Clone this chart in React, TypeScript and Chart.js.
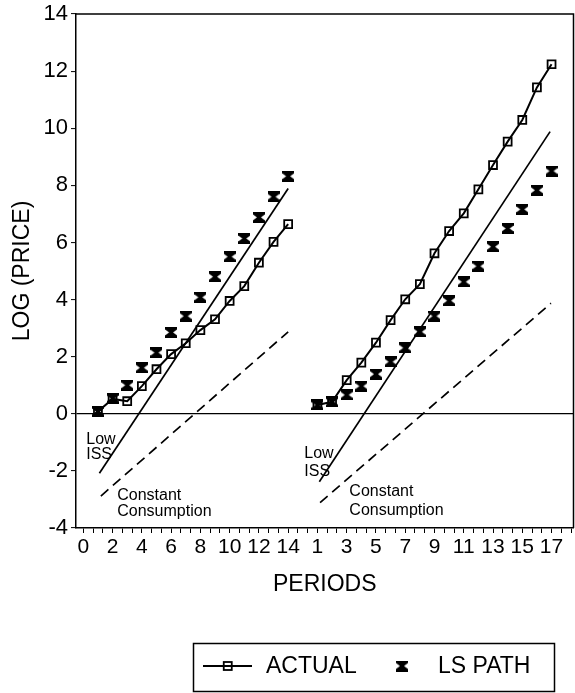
import React, { useEffect, useRef } from "react";
import { Chart, registerables } from "chart.js";

Chart.register(...registerables);

const FONT = "'Liberation Sans', Arial, Helvetica, sans-serif";

// x position (on the shared axis) of period 0 for each panel
const PANEL_A_START = 0;
const PANEL_B_START = 15;

// ---------- data ----------
const periodsA = [1, 2, 3, 4, 5, 6, 7, 8, 9, 10, 11, 12, 13, 14];
const actualA = [0.08, 0.52, 0.44, 0.97, 1.56, 2.09, 2.47, 2.93, 3.31, 3.95, 4.47, 5.29, 6.02, 6.64];
const lsPathA = [0.08, 0.54, 1.0, 1.61, 2.14, 2.85, 3.42, 4.08, 4.8, 5.5, 6.14, 6.88, 7.6, 8.32];

const periodsB = [1, 2, 3, 4, 5, 6, 7, 8, 9, 10, 11, 12, 13, 14, 15, 16, 17];
const actualB = [0.31, 0.42, 1.18, 1.79, 2.49, 3.28, 4.01, 4.54, 5.62, 6.4, 7.02, 7.86, 8.71, 9.53, 10.29, 11.43, 12.24];
const lsPathB = [0.31, 0.42, 0.66, 0.97, 1.39, 1.82, 2.31, 2.87, 3.42, 3.96, 4.62, 5.17, 5.85, 6.49, 7.16, 7.83, 8.5];

// reference paths: [period, log price] end points
const lowIssA = [[1.1, -2.08], [14, 7.89]];
const constConsA = [[1.2, -2.88], [14, 2.87]];
const lowIssB = [[1.13, -2.38], [16.9, 9.88]];
const constConsB = [[1.18, -3.11], [16.96, 3.87]];

// tick labels
const yTicks = [-4, -2, 0, 2, 4, 6, 8, 10, 12, 14];
const xLabelsA = [0, 2, 4, 6, 8, 10, 12, 14];
const xLabelsB = [1, 3, 5, 7, 9, 11, 13, 15, 17];

const seriesLabels = ["ACTUAL", "LS PATH"];

// text notes: [text, period, log price, panel]
const notes: [string, number, number, string][] = [
  ["Low", 0.2, -0.92, "A"],
  ["ISS", 0.2, -1.44, "A"],
  ["Constant", 2.32, -2.88, "A"],
  ["Consumption", 2.32, -3.42, "A"],
  ["Low", 0.1, -1.41, "B"],
  ["ISS", 0.1, -2.04, "B"],
  ["Constant", 3.18, -2.74, "B"],
  ["Consumption", 3.18, -3.38, "B"],
];

const toXY = (periods: number[], vals: number[], start: number) =>
  periods.map((p, i) => ({ x: start + p, y: vals[i] }));
const pairXY = (pts: number[][], start: number) => pts.map(([p, v]) => ({ x: start + p, y: v }));

function makeHourglass(w: number, h: number) {
  const c = document.createElement("canvas");
  c.width = w;
  c.height = h;
  const g = c.getContext("2d")!;
  g.fillStyle = "#000";
  g.beginPath();
  g.moveTo(0, 0);
  g.lineTo(w, 0);
  g.lineTo(w, 2.5);
  g.lineTo(w / 2 + 2, h / 2);
  g.lineTo(w, h - 2.5);
  g.lineTo(w, h);
  g.lineTo(0, h);
  g.lineTo(0, h - 2.5);
  g.lineTo(w / 2 - 2, h / 2);
  g.lineTo(0, 2.5);
  g.closePath();
  g.fill();
  return c;
}

export default function App() {
  const ref = useRef<HTMLCanvasElement | null>(null);

  useEffect(() => {
    if (!ref.current) return;
    const hourglass = makeHourglass(12, 11);

    const actualStyle = {
      borderColor: "#000",
      borderWidth: 2,
      pointStyle: "rect" as const,
      pointRadius: 5.6,
      pointBorderWidth: 1.8,
      pointBorderColor: "#000",
      pointBackgroundColor: "rgba(255,255,255,0)",
      showLine: true,
    };
    const lsStyle = {
      showLine: false,
      pointStyle: hourglass as any,
      pointRadius: 6,
      borderColor: "#000",
      backgroundColor: "#000",
    };
    const solidRef = { borderColor: "#000", borderWidth: 1.7, pointRadius: 0, showLine: true };
    const dashRef = { ...solidRef, borderDash: [10, 6] };

    const framePlugin = {
      id: "framePlugin",
      afterDraw(chart: any) {
        const { ctx, chartArea, scales } = chart;
        const xs = scales.x;
        const ys = scales.y;
        ctx.save();
        // frame top & right
        ctx.strokeStyle = "#000";
        ctx.lineWidth = 1.5;
        ctx.beginPath();
        ctx.moveTo(chartArea.left, chartArea.top);
        ctx.lineTo(chartArea.right, chartArea.top);
        ctx.lineTo(chartArea.right, chartArea.bottom);
        ctx.stroke();

        // notes
        ctx.fillStyle = "#000";
        ctx.font = `16px ${FONT}`;
        ctx.textAlign = "left";
        ctx.textBaseline = "middle";
        notes.forEach(([t, p, v, panel]) => {
          const start = panel === "A" ? PANEL_A_START : PANEL_B_START;
          ctx.fillText(t, xs.getPixelForValue(start + p), ys.getPixelForValue(v));
        });

        // legend
        const bx = 193.5, by = 643.5, bw = 361, bh = 48;
        ctx.lineWidth = 1.5;
        ctx.strokeRect(bx, by, bw, bh);
        const cy = 666;
        ctx.lineWidth = 2;
        ctx.beginPath();
        ctx.moveTo(203, cy);
        ctx.lineTo(252, cy);
        ctx.stroke();
        ctx.lineWidth = 1.8;
        ctx.strokeRect(223.75, cy - 4, 8, 8);
        ctx.font = `23px ${FONT}`;
        ctx.fillText(seriesLabels[0], 266, cy + 1);
        ctx.drawImage(hourglass, 402 - 6, cy - 5.5);
        ctx.fillText(seriesLabels[1], 438, cy + 1);
        ctx.restore();
      },
    };

    const chart = new Chart(ref.current, {
      type: "line",
      data: {
        datasets: [
          { label: seriesLabels[0], data: toXY(periodsA, actualA, PANEL_A_START), ...actualStyle },
          { label: seriesLabels[0] + " B", data: toXY(periodsB, actualB, PANEL_B_START), ...actualStyle },
          { label: seriesLabels[1], data: toXY(periodsA, lsPathA, PANEL_A_START), ...lsStyle },
          { label: seriesLabels[1] + " B", data: toXY(periodsB, lsPathB, PANEL_B_START), ...lsStyle },
          { label: "Low ISS A", data: pairXY(lowIssA, PANEL_A_START), ...solidRef },
          { label: "Low ISS B", data: pairXY(lowIssB, PANEL_B_START), ...solidRef },
          { label: "Constant Consumption A", data: pairXY(constConsA, PANEL_A_START), ...dashRef },
          { label: "Constant Consumption B", data: pairXY(constConsB, PANEL_B_START), ...dashRef },
        ] as any,
      },
      options: {
        responsive: false,
        animation: false,
        devicePixelRatio: 1,
        layout: { autoPadding: false, padding: { left: 0, top: 14, right: 1.5, bottom: 93 } },
        plugins: { legend: { display: false }, tooltip: { enabled: false }, title: { display: false } },
        elements: { line: { tension: 0 } },
        scales: {
          x: {
            type: "linear",
            min: -0.5,
            max: 33.5,
            afterBuildTicks: (scale: any) => {
              const t = [];
              for (let k = 0; k <= 50; k++) t.push({ value: (k * 2) / 3 });
              scale.ticks = t;
            },
            afterFit: (scale: any) => {
              scale.height = 72;
              scale.paddingLeft = 0;
              scale.paddingRight = 0;
            },
            ticks: {
              autoSkip: false,
              maxRotation: 0,
              minRotation: 0,
              padding: 2,
              color: "#000",
              font: { family: FONT, size: 21 },
              callback: (value: any) => {
                const v = Number(value);
                const r = Math.round(v);
                if (Math.abs(v - r) > 1e-6) return "";
                if (xLabelsA.includes(r - PANEL_A_START) && r <= 14) return String(r - PANEL_A_START);
                if (r >= PANEL_B_START + 1 && xLabelsB.includes(r - PANEL_B_START)) return String(r - PANEL_B_START);
                return "";
              },
            },
            grid: {
              drawOnChartArea: false,
              drawTicks: true,
              tickLength: 5,
              tickColor: "#000",
              tickWidth: 1,
            },
            border: { color: "#000", width: 1.5 },
            title: {
              display: true,
              text: "PERIODS",
              color: "#000",
              font: { family: FONT, size: 23 },
              padding: { top: 0, bottom: 2 },
            },
          },
          y: {
            type: "linear",
            min: -4,
            max: 14,
            afterBuildTicks: (scale: any) => {
              scale.ticks = yTicks.map((v) => ({ value: v }));
            },
            afterFit: (scale: any) => {
              scale.width = 76;
              scale.paddingTop = 0;
              scale.paddingBottom = 0;
            },
            ticks: {
              padding: 3,
              color: "#000",
              font: { family: FONT, size: 22 },
            },
            grid: {
              color: (c: any) => (c.tick && c.tick.value === 0 ? "#000" : "rgba(0,0,0,0)"),
              lineWidth: 1.2,
              drawTicks: true,
              tickLength: 5,
              tickColor: "#000",
              tickWidth: 1,
            },
            border: { color: "#000", width: 1.5 },
            title: {
              display: true,
              text: "LOG (PRICE)",
              color: "#000",
              font: { family: FONT, size: 23 },
              padding: { top: 9, bottom: 0 },
            },
          },
        },
      },
      plugins: [framePlugin],
    } as any);

    return () => chart.destroy();
  }, []);

  return (
    <div style={{ position: "absolute", left: 0, top: 0, width: 575, height: 693, background: "#fff" }}>
      <canvas ref={ref} width={575} height={693} style={{ display: "block" }} />
    </div>
  );
}
